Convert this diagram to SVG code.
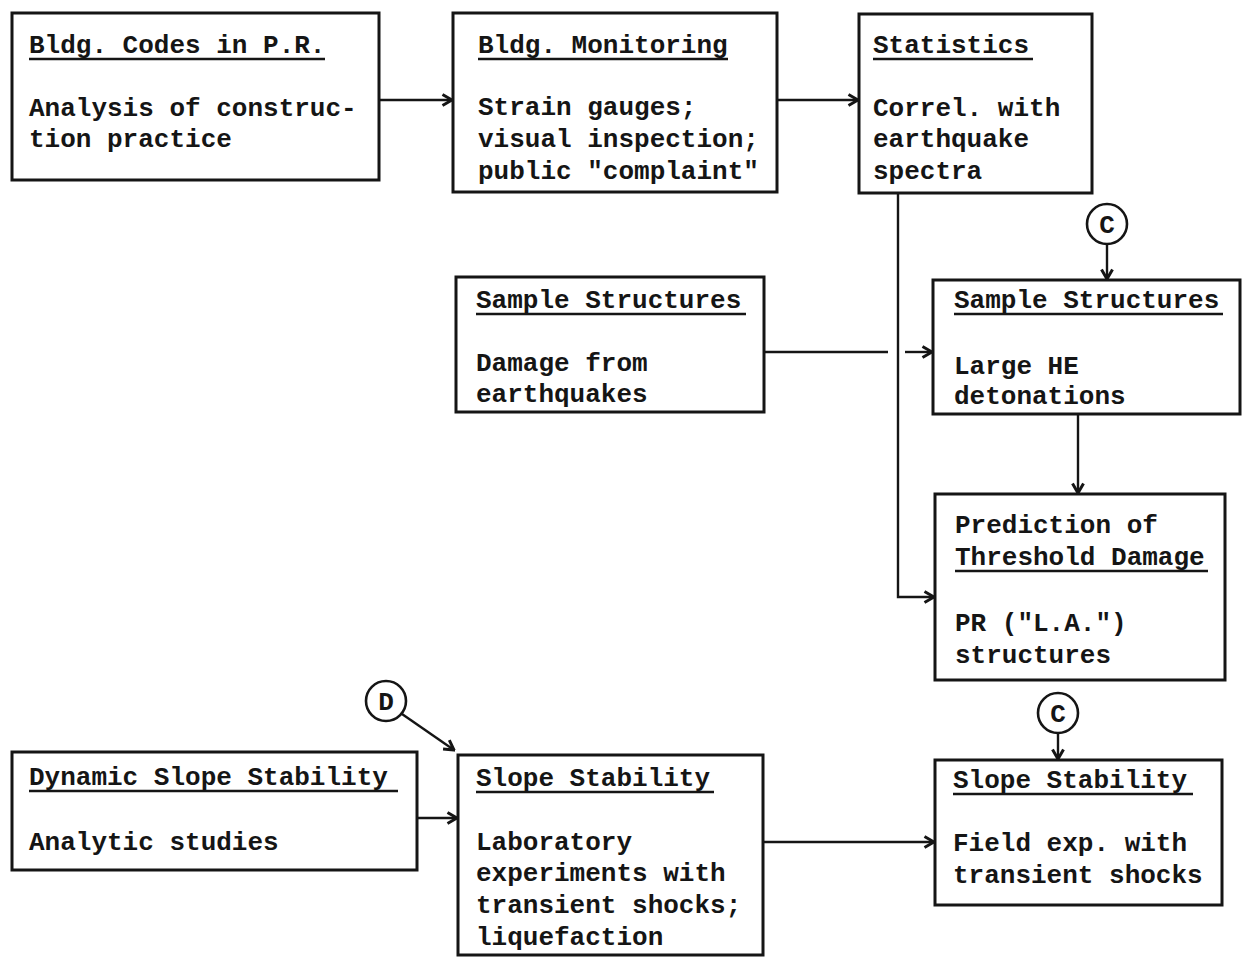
<svg xmlns="http://www.w3.org/2000/svg" width="1250" height="973" viewBox="0 0 1250 973">
  <style>
    .box { fill: none; stroke: #151515; stroke-width: 3; }
    .t { font-family: "Liberation Mono", "DejaVu Sans Mono", monospace; font-weight: bold; font-size: 26px; fill: #151515; }
    .ul { stroke: #151515; stroke-width: 2.4; }
    .wire { fill: none; stroke: #151515; stroke-width: 2.4; }
    .ring { fill: #fff; stroke: #151515; stroke-width: 2.6; }
  </style>
  <defs>
    <marker id="head" viewBox="0 0 14 14" refX="12.5" refY="7" markerWidth="14" markerHeight="14" markerUnits="userSpaceOnUse" orient="auto">
      <path d="M3,1.5 L12.5,7 L3,12.5" fill="none" stroke="#151515" stroke-width="3" stroke-linejoin="miter"/>
    </marker>
  </defs>
  <rect width="1250" height="973" fill="#fff"/>

  <!-- connectors -->
  <g id="connectors">
    <line class="wire" x1="379" y1="100" x2="452" y2="100" marker-end="url(#head)"/>
    <line class="wire" x1="777" y1="100" x2="858" y2="100" marker-end="url(#head)"/>
    <path class="wire" d="M898,193 V597 H934" marker-end="url(#head)"/>
    <line class="wire" x1="764" y1="352" x2="888" y2="352"/>
    <line class="wire" x1="905" y1="352" x2="932" y2="352" marker-end="url(#head)"/>
    <line class="wire" x1="1107" y1="245" x2="1107" y2="279" marker-end="url(#head)"/>
    <line class="wire" x1="1078" y1="414" x2="1078" y2="493" marker-end="url(#head)"/>
    <line class="wire" x1="1058" y1="733" x2="1058" y2="759" marker-end="url(#head)"/>
    <line class="wire" x1="402" y1="714" x2="454" y2="750" marker-end="url(#head)"/>
    <line class="wire" x1="417" y1="818" x2="457" y2="818" marker-end="url(#head)"/>
    <line class="wire" x1="763" y1="842" x2="934" y2="842" marker-end="url(#head)"/>
  </g>

  <g id="bldg-codes">
    <rect class="box" x="12" y="13" width="367" height="167"/>
    <text class="t" x="29" y="53">Bldg. Codes in P.R.</text>
    <line class="ul" x1="29" y1="59" x2="325" y2="59"/>
    <text class="t" x="29" y="116">Analysis of construc-</text>
    <text class="t" x="29" y="147">tion practice</text>
  </g>

  <g id="bldg-monitoring">
    <rect class="box" x="453" y="13" width="324" height="179"/>
    <text class="t" x="478" y="53">Bldg. Monitoring</text>
    <line class="ul" x1="478" y1="59" x2="728" y2="59"/>
    <text class="t" x="478" y="115">Strain gauges;</text>
    <text class="t" x="478" y="147">visual inspection;</text>
    <text class="t" x="478" y="179">public "complaint"</text>
  </g>

  <g id="statistics">
    <rect class="box" x="859" y="14" width="233" height="179"/>
    <text class="t" x="873" y="53">Statistics</text>
    <line class="ul" x1="873" y1="59" x2="1033" y2="59"/>
    <text class="t" x="873" y="116">Correl. with</text>
    <text class="t" x="873" y="147">earthquake</text>
    <text class="t" x="873" y="179">spectra</text>
  </g>

  <g id="connector-c-top">
    <circle class="ring" cx="1107" cy="224" r="20"/>
    <text class="t" x="1107" y="233" text-anchor="middle">C</text>
  </g>

  <g id="sample-eq">
    <rect class="box" x="456" y="277" width="308" height="135"/>
    <text class="t" x="476" y="308">Sample Structures</text>
    <line class="ul" x1="476" y1="314" x2="746" y2="314"/>
    <text class="t" x="476" y="371">Damage from</text>
    <text class="t" x="476" y="402">earthquakes</text>
  </g>

  <g id="sample-he">
    <rect class="box" x="933" y="280" width="307" height="134"/>
    <text class="t" x="954" y="308">Sample Structures</text>
    <line class="ul" x1="954" y1="314" x2="1223" y2="314"/>
    <text class="t" x="954" y="374">Large HE</text>
    <text class="t" x="954" y="404">detonations</text>
  </g>

  <g id="prediction">
    <rect class="box" x="935" y="494" width="290" height="186"/>
    <text class="t" x="955" y="533">Prediction of</text>
    <text class="t" x="955" y="565">Threshold Damage</text>
    <line class="ul" x1="955" y1="571" x2="1208" y2="571"/>
    <text class="t" x="955" y="631">PR ("L.A.")</text>
    <text class="t" x="955" y="663">structures</text>
  </g>

  <g id="connector-d">
    <circle class="ring" cx="386" cy="701" r="20"/>
    <text class="t" x="386" y="710" text-anchor="middle">D</text>
  </g>

  <g id="connector-c-bottom">
    <circle class="ring" cx="1058" cy="713" r="20"/>
    <text class="t" x="1058" y="722" text-anchor="middle">C</text>
  </g>

  <g id="dynamic-slope">
    <rect class="box" x="12" y="752" width="405" height="118"/>
    <text class="t" x="29" y="785">Dynamic Slope Stability</text>
    <line class="ul" x1="29" y1="791" x2="398" y2="791"/>
    <text class="t" x="29" y="850">Analytic studies</text>
  </g>

  <g id="slope-lab">
    <rect class="box" x="458" y="755" width="305" height="200"/>
    <text class="t" x="476" y="786">Slope Stability</text>
    <line class="ul" x1="476" y1="792" x2="714" y2="792"/>
    <text class="t" x="476" y="850">Laboratory</text>
    <text class="t" x="476" y="881">experiments with</text>
    <text class="t" x="476" y="913">transient shocks;</text>
    <text class="t" x="476" y="945">liquefaction</text>
  </g>

  <g id="slope-field">
    <rect class="box" x="935" y="760" width="287" height="145"/>
    <text class="t" x="953" y="788">Slope Stability</text>
    <line class="ul" x1="953" y1="794" x2="1193" y2="794"/>
    <text class="t" x="953" y="851">Field exp. with</text>
    <text class="t" x="953" y="883">transient shocks</text>
  </g>
</svg>
